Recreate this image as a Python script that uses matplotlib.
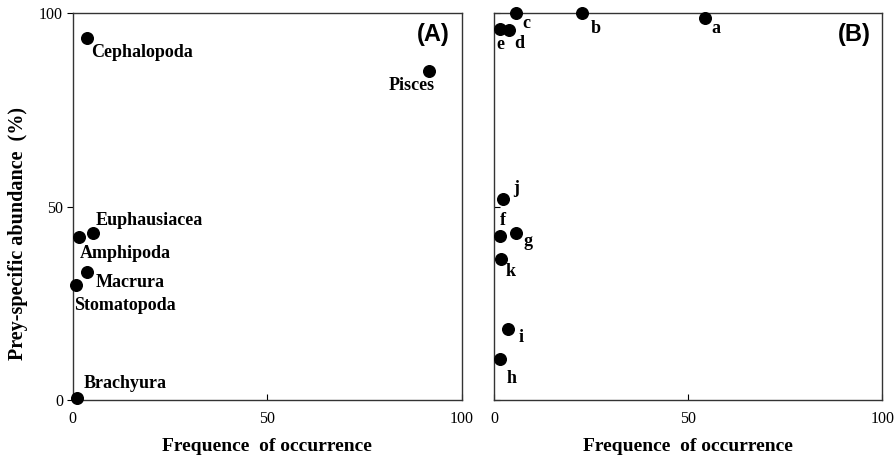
import matplotlib
matplotlib.use("Agg")
import matplotlib.pyplot as plt

# Panel A data
prey_a = ["Cephalopoda", "Pisces", "Euphausiacea", "Amphipoda", "Macrura", "Stomatopoda", "Brachyura"]
freq_a = [3.75, 91.7, 5.3, 1.6, 3.6, 0.9, 1.0]
abund_a = [93.5, 85.2, 43.1, 42.2, 33.0, 29.7, 0.6]

# Panel B data
prey_b = ["a", "b", "c", "d", "e", "j", "f", "g", "k", "i", "h"]
freq_b = [54.4, 22.6, 5.5, 3.9, 1.5, 2.3, 1.5, 5.5, 1.7, 3.5, 1.5]
abund_b = [98.7, 100.0, 100.0, 95.7, 95.9, 51.9, 42.4, 43.1, 36.4, 18.4, 10.5]

ticks = [0, 50, 100]

# label offsets (points) and alignment
off_a = {"Cephalopoda": (2.7, -10, "left"), "Pisces": (4, -11, "right"),
         "Euphausiacea": (2, 9.6, "left"), "Amphipoda": (0.7, -11.7, "left"),
         "Macrura": (6.7, -7, "left"), "Stomatopoda": (-1.7, -14.4, "left"),
         "Brachyura": (5.3, 9.9, "left")}
off_b = {"a": (7.7, -7), "b": (10, -10.6), "c": (8, -7), "d": (7, -10), "e": (0, -11.3),
         "j": (9, 8), "f": (2, 11.5), "g": (9, -5.5), "k": (7, -9), "i": (9.6, -6), "h": (8.6, -13.5)}

serif = "Liberation Serif"
fig = plt.figure(figsize=(8.96, 4.59), dpi=100)
axA = fig.add_axes([0.0811, 0.1285, 0.4342, 0.8424])
axB = fig.add_axes([0.5517, 0.1285, 0.4330, 0.8424])

for ax in (axA, axB):
    ax.set_xlim(0, 100)
    ax.set_ylim(0, 100)
    ax.set_xticks(ticks)
    ax.set_yticks(ticks)
    for s in ax.spines.values():
        s.set_linewidth(1.0)
        s.set_color("#333333")
    ax.tick_params(axis="x", direction="in", length=4, pad=8, labelsize=11.5)
    for lab in ax.get_xticklabels():
        lab.set_fontfamily(serif)
    ax.set_xlabel("Frequence  of occurrence", fontfamily=serif, fontweight="bold",
                  fontsize=14, labelpad=8)

axA.tick_params(axis="y", direction="out", length=4, pad=3, labelsize=11.5)
for lab in axA.get_yticklabels():
    lab.set_fontfamily(serif)
axA.set_ylabel("Prey-specific abundance  (%)", fontfamily=serif, fontweight="bold",
               fontsize=14.5)
axA.yaxis.set_label_coords(-0.115, 0.43)
axB.tick_params(axis="y", direction="in", length=4, labelleft=False)

axA.scatter(freq_a, abund_a, s=70, color="black", zorder=3, clip_on=False)
for name, x, y in zip(prey_a, freq_a, abund_a):
    dx, dy, ha = off_a[name]
    axA.annotate(name, (x, y), xytext=(dx, dy), textcoords="offset points",
                 ha=ha, va="center", fontfamily=serif, fontweight="bold", fontsize=13)

axB.scatter(freq_b, abund_b, s=70, color="black", zorder=3, clip_on=False)
for name, x, y in zip(prey_b, freq_b, abund_b):
    dx, dy = off_b[name]
    axB.annotate(name, (x, y), xytext=(dx, dy), textcoords="offset points",
                 ha="center", va="center", fontfamily=serif, fontweight="bold", fontsize=13)

axA.text(0.97, 0.945, "(A)", transform=axA.transAxes, ha="right", va="center",
         fontfamily="Liberation Sans", fontweight="bold", fontsize=17)
axB.text(0.97, 0.945, "(B)", transform=axB.transAxes, ha="right", va="center",
         fontfamily="Liberation Sans", fontweight="bold", fontsize=17)

fig.savefig("out.png", dpi=100)
